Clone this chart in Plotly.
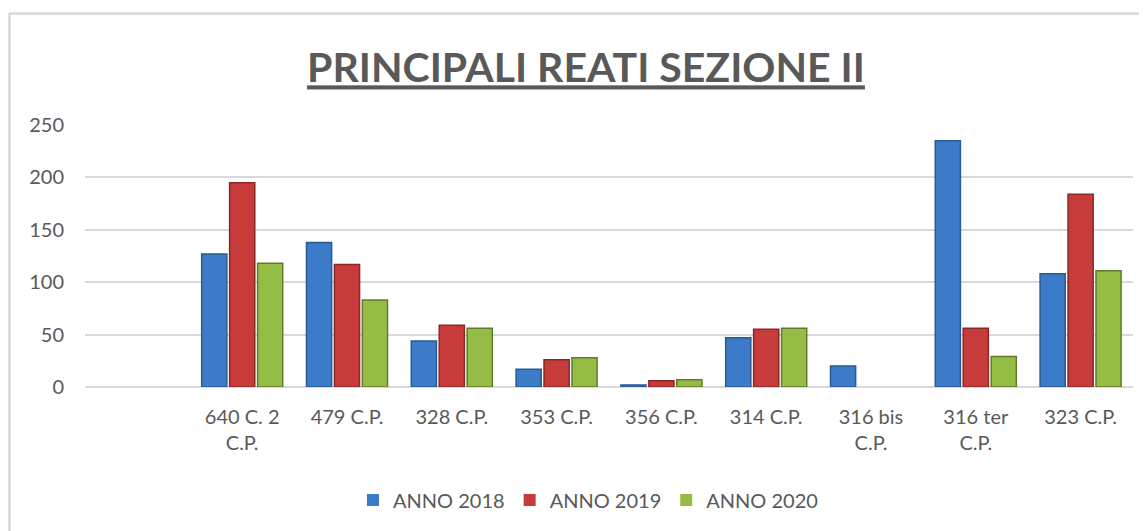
import plotly.graph_objects as go

categories = ["", "640 C. 2<br>C.P.", "479 C.P.", "328 C.P.", "353 C.P.", "356 C.P.",
              "314 C.P.", "316 bis<br>C.P.", "316 ter<br>C.P.", "323 C.P."]
anno_2018 = [None, 127, 138, 44, 17, 2, 47, 20, 235, 108]
anno_2019 = [None, 195, 117, 59, 26, 6, 55, 0, 56, 184]
anno_2020 = [None, 118, 83, 56, 28, 7, 56, 0, 29, 111]
series_names = ["ANNO 2018", "ANNO 2019", "ANNO 2020"]

W, H = 1147, 531
OFF = 8  # page body margin offset
ML, MR = 85 - OFF, 1147 - 1133 + OFF
MT, MB = 125 - OFF, 531 - 387 + OFF
pw = W - ML - MR
ph = H - MT - MB

def px2x(px):
    return (px - OFF - ML) / pw

def py2y(py):
    return (H - MB - (py - OFF)) / ph

fills = ["#3b7bc8", "#c73b3b", "#95bd45"]
edges = ["#2a5a94", "#8a2828", "#5f7d28"]

fig = go.Figure()
for name, vals, fc, ec in zip(series_names, [anno_2018, anno_2019, anno_2020], fills, edges):
    widths = [0 if (v is None or v == 0) else 1.5 for v in vals]
    fig.add_trace(go.Bar(
        x=list(range(len(categories))), y=vals, name=name,
        marker=dict(color=fc, line=dict(color=ec, width=widths)),
    ))

fig.update_layout(
    width=W, height=H,
    margin=dict(l=ML, r=MR, t=MT, b=MB),
    paper_bgcolor="white", plot_bgcolor="white",
    barmode="group", bargap=0.2, bargroupgap=0.1,
    font=dict(family="Lato", size=20, color="#595959"),
    title=dict(text="<u>PRINCIPALI REATI SEZIONE II</u>", x=(586 - OFF) / W, xref="container",
               xanchor="center", y=1 - (68 - OFF) / H, yanchor="middle",
               font=dict(family="Lato", size=41, color="#595959", weight="bold")),
    legend=dict(orientation="h", x=(588 - OFF) / W, xref="container", xanchor="center",
                y=1 - (500 - OFF) / H, yref="container", yanchor="middle",
                font=dict(size=20, color="#595959"), itemwidth=30, tracegroupgap=0),
    showlegend=True,
)
fig.update_xaxes(
    tickmode="array", tickvals=list(range(len(categories))), ticktext=categories,
    range=[-0.5, len(categories) - 0.5], showgrid=False, zeroline=False,
    showline=False, ticks="", ticklabelstandoff=16,
    tickfont=dict(size=20, color="#595959"),
)
fig.update_yaxes(
    range=[0, 250], tickvals=[0, 50, 100, 150, 200, 250],
    showgrid=True, gridcolor="#d9d9d9", gridwidth=2,
    zeroline=True, zerolinecolor="#d9d9d9", zerolinewidth=2,
    showline=False, ticks="", ticklabelstandoff=20,
    tickfont=dict(size=20, color="#595959"),
)

# outer chart border (left and top)
fig.add_shape(type="line", xref="paper", yref="paper",
              x0=px2x(9.5), x1=px2x(9.5), y0=py2y(13), y1=py2y(H + 20),
              line=dict(color="#d9d9d9", width=2.5), layer="below")
fig.add_shape(type="line", xref="paper", yref="paper",
              x0=px2x(9), x1=px2x(W + 20), y0=py2y(13.5), y1=py2y(13.5),
              line=dict(color="#d9d9d9", width=2.5), layer="below")

fig.write_html("out.html")
